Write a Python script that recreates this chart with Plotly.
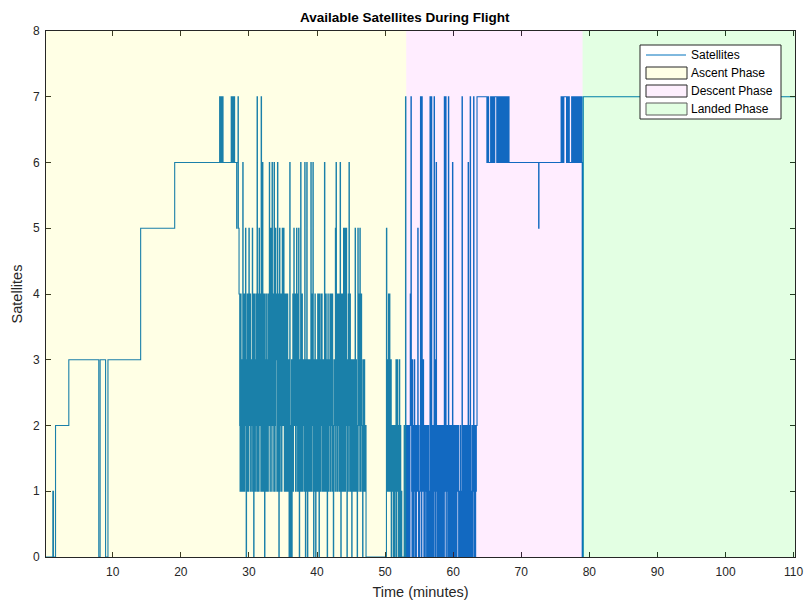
import plotly.graph_objects as go

# ---------------- data ----------------
# clean climb (time in minutes, satellites) - step values
climb_t = [0.2, 1.2, 1.3, 1.6, 3.55, 7.95, 8.15, 8.95, 9.3, 14.1, 19.1,
           25.7, 25.8, 25.85, 25.95, 26.05, 26.2, 27.4, 27.5, 27.55, 27.65, 27.8, 27.9]
climb_v = [0, 1, 0, 2, 3, 0, 3, 0, 3, 5, 6,
           7, 6, 7, 6, 7, 6, 7, 6, 7, 6, 7, 6]

# noisy reception at altitude (samples)
noise1_t = [28.2, 28.3, 28.4, 28.5, 28.6, 28.7, 28.8, 28.9,
            29.0, 29.1, 29.2, 29.3, 29.4, 29.5, 29.6, 29.7, 29.8, 29.9,
            30.0, 30.1, 30.2, 30.3, 30.4, 30.5, 30.6, 30.7, 30.8, 30.9,
            31.0, 31.1, 31.2, 31.3, 31.4, 31.5, 31.6, 31.7, 31.8, 31.9,
            32.0, 32.1, 32.2, 32.3, 32.4, 32.5, 32.6, 32.7, 32.8, 32.9,
            33.0, 33.1, 33.2, 33.3, 33.4, 33.5, 33.6, 33.7, 33.8, 33.9,
            34.0, 34.1, 34.2, 34.3, 34.4, 34.5, 34.6, 34.7, 34.8, 34.9,
            35.0, 35.1, 35.2, 35.3, 35.4, 35.5, 35.6, 35.7, 35.8, 35.9,
            36.0, 36.1, 36.2, 36.3, 36.4, 36.5, 36.6, 36.7, 36.8, 36.9,
            37.0, 37.1, 37.2, 37.3, 37.4, 37.5, 37.6, 37.7, 37.8, 37.9,
            38.0, 38.1, 38.2, 38.3, 38.4, 38.5, 38.6, 38.7, 38.8, 38.9,
            39.0, 39.1, 39.2, 39.3, 39.4, 39.5, 39.6, 39.7, 39.8, 39.9,
            40.0, 40.1, 40.2, 40.3, 40.4, 40.5, 40.6, 40.7, 40.8, 40.9,
            41.0, 41.1, 41.2, 41.3, 41.4, 41.5, 41.6, 41.7, 41.8, 41.9,
            42.0, 42.1, 42.2, 42.3, 42.4, 42.5, 42.6, 42.7, 42.8, 42.9,
            43.0, 43.1, 43.2, 43.3, 43.4, 43.5, 43.6, 43.7, 43.8, 43.9,
            44.0, 44.1, 44.2, 44.3, 44.4, 44.5, 44.6, 44.7, 44.8, 44.9,
            45.0, 45.1, 45.2, 45.3, 45.4, 45.5, 45.6, 45.7, 45.8, 45.9,
            46.0, 46.1, 46.2, 46.3, 46.4, 46.5, 46.6, 46.7, 46.8, 46.9,
            47.0, 47.1, 47.2]
noise1_v = [5, 6, 7, 5, 4, 1, 4, 2,
            3, 6, 1, 4, 2, 5, 0, 3, 1, 4,
            5, 2, 4, 1, 3, 5, 2, 0, 4, 1,
            3, 2, 7, 1, 4, 5, 2, 3, 7, 1,
            6, 2, 4, 0, 3, 1, 4, 2, 1, 4,
            6, 1, 5, 3, 6, 2, 4, 6, 1, 5,
            3, 1, 6, 4, 0, 5, 2, 4, 1, 5,
            2, 5, 1, 4, 2, 4, 1, 3, 2, 0,
            6, 0, 2, 0, 3, 1, 5, 2, 4, 1,
            5, 2, 4, 5, 0, 3, 6, 1, 4, 2,
            3, 1, 6, 0, 2, 6, 0, 3, 1, 2,
            3, 6, 1, 4, 6, 0, 2, 4, 0, 3,
            1, 4, 2, 0, 4, 1, 3, 4, 2, 1,
            3, 6, 1, 4, 2, 0, 4, 1, 3, 4,
            2, 4, 1, 3, 0, 2, 3, 5, 6, 1,
            4, 2, 4, 1, 6, 0, 4, 2, 3, 5,
            1, 5, 2, 5, 0, 3, 4, 6, 1, 3,
            2, 0, 3, 1, 2, 3, 5, 1, 2, 0,
            5, 2, 4, 5, 1, 4, 2, 0, 3, 1,
            2, 1, 0]

# intermediate samples of the same stretch
noise1b_t = [28.25, 28.35, 28.45, 28.55, 28.65, 28.75, 28.85, 28.95,
             29.05, 29.15, 29.25, 29.35, 29.45, 29.55, 29.65, 29.75, 29.85, 29.95,
             30.05, 30.15, 30.25, 30.35, 30.45, 30.55, 30.65, 30.75, 30.85, 30.95,
             31.05, 31.15, 31.25, 31.35, 31.45, 31.55, 31.65, 31.75, 31.85, 31.95,
             32.05, 32.15, 32.25, 32.35, 32.45, 32.55, 32.65, 32.75, 32.85, 32.95,
             33.05, 33.15, 33.25, 33.35, 33.45, 33.55, 33.65, 33.75, 33.85, 33.95,
             34.05, 34.15, 34.25, 34.35, 34.45, 34.55, 34.65, 34.75, 34.85, 34.95,
             35.05, 35.15, 35.25, 35.35, 35.45, 35.55, 35.65, 35.75, 35.85, 35.95,
             36.05, 36.15, 36.25, 36.35, 36.45, 36.55, 36.65, 36.75, 36.85, 36.95,
             37.05, 37.15, 37.25, 37.35, 37.45, 37.55, 37.65, 37.75, 37.85, 37.95,
             38.05, 38.15, 38.25, 38.35, 38.45, 38.55, 38.65, 38.75, 38.85, 38.95,
             39.05, 39.15, 39.25, 39.35, 39.45, 39.55, 39.65, 39.75, 39.85, 39.95,
             40.05, 40.15, 40.25, 40.35, 40.45, 40.55, 40.65, 40.75, 40.85, 40.95,
             41.05, 41.15, 41.25, 41.35, 41.45, 41.55, 41.65, 41.75, 41.85, 41.95,
             42.05, 42.15, 42.25, 42.35, 42.45, 42.55, 42.65, 42.75, 42.85, 42.95,
             43.05, 43.15, 43.25, 43.35, 43.45, 43.55, 43.65, 43.75, 43.85, 43.95,
             44.05, 44.15, 44.25, 44.35, 44.45, 44.55, 44.65, 44.75, 44.85, 44.95,
             45.05, 45.15, 45.25, 45.35, 45.45, 45.55, 45.65, 45.75, 45.85, 45.95,
             46.05, 46.15, 46.25, 46.35, 46.45, 46.55, 46.65, 46.75, 46.85, 46.95,
             47.05, 47.15]
noise1b_v = [6, 6, 5, 4, 2, 3, 1, 3,
             1, 2, 3, 1, 4, 2, 1, 4, 2, 1,
             3, 4, 1, 3, 2, 1, 4, 2, 1, 3,
             4, 1, 2, 3, 1, 3, 4, 1, 2, 3,
             1, 3, 1, 4, 2, 3, 1, 3, 4, 2,
             3, 4, 2, 1, 3, 4, 1, 3, 2, 3,
             4, 3, 1, 2, 3, 1, 3, 2, 3, 2,
             3, 2, 4, 1, 3, 1, 4, 1, 3, 1,
             2, 1, 3, 1, 4, 3, 2, 4, 1, 3,
             3, 1, 2, 1, 3, 1, 2, 3, 1, 3,
             2, 3, 1, 3, 1, 2, 1, 2, 3, 1,
             2, 1, 3, 2, 1, 3, 1, 3, 1, 2,
             3, 1, 4, 2, 3, 2, 4, 1, 3, 3,
             1, 2, 4, 1, 3, 2, 1, 3, 2, 1,
             3, 2, 4, 1, 2, 3, 1, 4, 2, 3,
             1, 3, 2, 3, 2, 3, 1, 4, 1, 2,
             3, 1, 4, 3, 2, 1, 3, 2, 4, 1,
             3, 2, 1, 3, 1, 2, 1, 3, 1, 2,
             3, 1, 2, 3, 2, 3, 1, 2, 1, 3,
             1, 2]

# reception during descent (samples)
noise2_t = [50.2, 50.3, 50.4, 50.5, 50.6, 50.7, 50.8, 50.9,
            51.0, 51.1, 51.2, 51.3, 51.4, 51.5, 51.6, 51.7, 51.8, 51.9,
            52.0, 52.1, 52.2, 52.3, 52.4, 52.5, 52.8, 52.9,
            53.0, 53.1, 53.2, 53.3, 53.4, 53.5, 53.6, 53.7, 53.8, 53.9,
            54.0, 54.1, 54.2, 54.3, 54.4, 54.5, 54.6, 54.7, 54.8, 54.9,
            55.0, 55.1, 55.2, 55.3, 55.4, 55.5, 55.6, 55.7, 55.8, 55.9,
            56.0, 56.1, 56.2, 56.3, 56.4, 56.5, 56.6, 56.7, 56.8, 56.9,
            57.0, 57.1, 57.2, 57.3, 57.4, 57.5, 57.6, 57.7, 57.8, 57.9,
            58.0, 58.1, 58.2, 58.3, 58.4, 58.5, 58.6, 58.7, 58.8, 58.9,
            59.0, 59.1, 59.2, 59.3, 59.4, 59.5, 59.6, 59.7, 59.8, 59.9,
            60.0, 60.1, 60.2, 60.3, 60.4, 60.5, 60.6, 60.7, 60.8, 60.9,
            61.0, 61.1, 61.2, 61.3, 61.4, 61.5, 61.6, 61.7, 61.8, 61.9,
            62.0, 62.1, 62.2, 62.3, 62.4, 62.5, 62.6, 62.7, 62.8, 62.9,
            63.0, 63.1, 63.2, 63.3, 63.4]
noise2_v = [5, 1, 2, 4, 1, 3, 2, 0,
            2, 1, 0, 2, 0, 1, 3, 1, 3, 2,
            1, 3, 1, 0, 1, 0, 2, 0,
            7, 1, 2, 0, 1, 2, 0, 4, 7, 1,
            3, 1, 2, 3, 0, 2, 1, 2, 5, 0,
            1, 2, 7, 3, 7, 1, 3, 0, 2, 1,
            2, 0, 2, 1, 0, 1, 7, 1, 7, 2,
            0, 1, 7, 3, 0, 6, 1, 2, 0, 2,
            1, 2, 0, 2, 1, 0, 2, 7, 6, 7,
            1, 2, 0, 7, 1, 2, 0, 2, 1, 6,
            2, 0, 2, 1, 2, 0, 2, 1, 0, 1,
            0, 1, 0, 7, 1, 2, 0, 2, 1, 2,
            0, 1, 6, 0, 2, 7, 1, 0, 2, 1,
            7, 0, 2, 1, 2]

noise2b_t = [50.25, 50.35, 50.45, 50.55, 50.65, 50.75, 50.85, 50.95,
             51.05, 51.15, 51.25, 51.35, 51.45, 51.55, 51.65, 51.75, 51.85, 51.95,
             52.05, 52.15, 52.25, 52.35, 52.45, 52.85,
             53.05, 53.15, 53.25, 53.35, 53.45, 53.55, 53.65, 53.75, 53.85, 53.95,
             54.05, 54.15, 54.25, 54.35, 54.45, 54.55, 54.65, 54.75, 54.85, 54.95,
             55.05, 55.15, 55.25, 55.35, 55.45, 55.55, 55.65, 55.75, 55.85, 55.95,
             56.05, 56.15, 56.25, 56.35, 56.45, 56.55, 56.65, 56.75, 56.85, 56.95,
             57.05, 57.15, 57.25, 57.35, 57.45, 57.55, 57.65, 57.75, 57.85, 57.95,
             58.05, 58.15, 58.25, 58.35, 58.45, 58.55, 58.65, 58.75, 58.85, 58.95,
             59.05, 59.15, 59.25, 59.35, 59.45, 59.55, 59.65, 59.75, 59.85, 59.95,
             60.05, 60.15, 60.25, 60.35, 60.45, 60.55, 60.65, 60.75, 60.85, 60.95,
             61.05, 61.15, 61.25, 61.35, 61.45, 61.55, 61.65, 61.75, 61.85, 61.95,
             62.05, 62.15, 62.25, 62.35, 62.45, 62.55, 62.65, 62.75, 62.85, 62.95,
             63.05, 63.15, 63.25, 63.35]
noise2b_v = [2, 3, 1, 2, 4, 1, 3, 1,
             1, 2, 1, 0, 2, 2, 0, 2, 1, 0,
             2, 0, 2, 1, 0, 1,
             2, 0, 1, 2, 0, 1, 2, 3, 2, 0,
             2, 0, 1, 2, 1, 0, 2, 1, 2, 1,
             0, 1, 2, 0, 2, 3, 1, 2, 0, 2,
             1, 2, 0, 2, 1, 0, 2, 0, 1, 0,
             2, 0, 2, 1, 2, 1, 0, 1, 2, 0,
             0, 1, 2, 0, 2, 1, 0, 1, 2, 0,
             2, 1, 2, 0, 2, 0, 1, 0, 2, 0,
             1, 2, 0, 2, 0, 2, 1, 2, 1, 0,
             2, 0, 1, 0, 2, 0, 1, 0, 2, 0,
             2, 0, 1, 2, 0, 2, 0, 1, 0, 2,
             1, 2, 0, 1]

# final approach and landing
landing_t = [63.5, 64.95, 65.0, 65.05, 65.1, 65.2, 65.5, 65.6, 65.7, 65.8, 65.9, 66.0, 66.1,
             66.4, 66.5, 66.6, 66.7, 66.8, 66.9, 67.0, 67.1, 67.2, 67.3, 67.4, 67.5, 67.6,
             67.7, 67.8, 67.9, 68.0, 68.1, 68.2, 72.55, 72.6,
             75.85, 75.95, 76.05, 76.15, 76.25, 76.65, 76.75, 76.85, 76.95, 77.05,
             77.4, 77.5, 77.6, 77.7, 77.8, 77.9, 78.0, 78.1, 78.2, 78.3, 78.4, 78.5,
             78.6, 78.7, 78.8, 78.9, 78.95, 79.1, 110.2]
landing_v = [7, 6, 7, 6, 7, 6, 7, 6, 7, 6, 7, 6, 7,
             6, 7, 6, 7, 6, 7, 6, 7, 6, 7, 6, 7, 6,
             7, 6, 7, 6, 7, 6, 5, 6,
             7, 6, 7, 6, 7, 6, 7, 6, 7, 6,
             7, 6, 7, 6, 7, 6, 7, 6, 7, 6, 7, 6,
             7, 6, 7, 6, 0, 7, 7]

series_name = "Satellites"
phase_names = ["Ascent Phase", "Descent Phase", "Landed Phase"]
phase_start = [0.2, 53.1, 79.0]
phase_end = [53.1, 79.0, 110.2]
phase_fill = ["rgba(255,255,0,0.10)", "rgba(255,0,255,0.07)", "rgba(0,255,0,0.11)"]
phase_swatch = ["#FFFFE6", "#FDEFFD", "#E2FFE2"]
phase_edge = ["#262626", "#262626", "#5a5a5a"]

x_ticks = [10, 20, 30, 40, 50, 60, 70, 80, 90, 100, 110]
y_ticks = [0, 1, 2, 3, 4, 5, 6, 7, 8]

# ---------------- figure ----------------
W, H = 809, 606
ML, MR, MT, MB = 46, 14, 31, 49
PW, PH = W - ML - MR, H - MT - MB


def px(xpix):
    return (xpix - ML) / PW


def py(ypix):
    return (H - MB - ypix) / PH


pairs = sorted(zip(climb_t + noise1_t + noise1b_t + noise2_t + noise2b_t + landing_t,
                   climb_v + noise1_v + noise1b_v + noise2_v + noise2b_v + landing_v))
t_all = [p[0] for p in pairs]
v_all = [p[1] for p in pairs]

LINE_COLOR = "#0072BD"
FONT = "Liberation Sans, Arial, Helvetica, sans-serif"
fig = go.Figure()
fig.add_trace(go.Scatter(x=t_all, y=v_all, mode="lines", name=series_name,
                         showlegend=False,
                         line=dict(color=LINE_COLOR, width=1.1, shape="hv")))

# translucent phase patches drawn over the data
for x0, x1, fc in zip(phase_start, phase_end, phase_fill):
    fig.add_shape(type="rect", xref="x", yref="y", x0=x0, x1=x1, y0=0, y1=8,
                  fillcolor=fc, line=dict(width=0), layer="above")

# legend box (drawn in pixel-derived paper coordinates)
LG_L, LG_R, LG_T, LG_B = 640, 781, 45, 119
fig.add_shape(type="rect", xref="paper", yref="paper",
              x0=px(LG_L), x1=px(LG_R), y0=py(LG_B), y1=py(LG_T),
              fillcolor="white", line=dict(color="#262626", width=1), layer="above")
row_y = [55, 73, 91, 109]
fig.add_shape(type="line", xref="paper", yref="paper",
              x0=px(646), x1=px(686), y0=py(row_y[0]), y1=py(row_y[0]),
              line=dict(color=LINE_COLOR, width=1), layer="above")
for ry, sw, ed in zip(row_y[1:], phase_swatch, phase_edge):
    fig.add_shape(type="rect", xref="paper", yref="paper",
                  x0=px(646), x1=px(687), y0=py(ry + 6), y1=py(ry - 6),
                  fillcolor=sw, line=dict(color=ed, width=1), layer="above")
for ry, label in zip(row_y, [series_name] + phase_names):
    fig.add_annotation(xref="paper", yref="paper", x=px(689), y=py(ry),
                       xanchor="left", yanchor="middle", showarrow=False, text=label,
                       font=dict(family=FONT, size=12, color="black"))

axis_common = dict(showline=True, linecolor="#262626", linewidth=1, mirror="ticks",
                   ticks="inside", ticklen=5, tickcolor="#262626", showgrid=False,
                   zeroline=False, tickfont=dict(family=FONT, size=12, color="#262626"))

fig.update_xaxes(range=[0.2, 110.2], tickvals=x_ticks, ticklabelstandoff=4,
                 title=dict(text="Time (minutes)", font=dict(family=FONT, size=14.5, color="#262626"),
                            standoff=8), **axis_common)
fig.update_yaxes(range=[0, 8], tickvals=y_ticks, ticklabelstandoff=3,
                 title=dict(text="Satellites", font=dict(family=FONT, size=14.5, color="#262626"),
                            standoff=6), **axis_common)

fig.update_layout(
    width=W, height=H,
    margin=dict(l=ML, r=MR, t=MT, b=MB, autoexpand=False),
    paper_bgcolor="white", plot_bgcolor="white",
    title=dict(text="<b>Available Satellites During Flight</b>", x=0.479, xref="paper",
               xanchor="center", y=1 - 17 / H, yref="container", yanchor="middle",
               font=dict(family=FONT, size=13.5, color="black")),
    showlegend=False,
)

fig.write_html("out.html")
